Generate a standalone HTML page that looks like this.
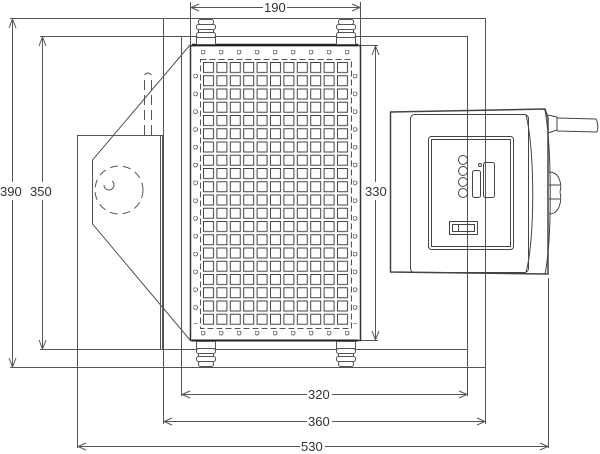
<!DOCTYPE html>
<html><head><meta charset="utf-8"><style>
html,body{margin:0;padding:0;background:#fff}
svg{display:block}
text{font-family:"Liberation Sans",sans-serif;font-size:13px;fill:#333}
</style></head><body>
<svg width="600" height="454" viewBox="0 0 600 454" xmlns="http://www.w3.org/2000/svg">
<defs>
<pattern id="sq" x="203" y="62" width="13.4" height="13.25" patternUnits="userSpaceOnUse">
<rect x="0.5" y="0.5" width="10" height="10" fill="none" stroke="#444" stroke-width="1"/>
</pattern>
<pattern id="hh" x="201" y="50" width="18" height="10" patternUnits="userSpaceOnUse">
<circle cx="2" cy="2" r="2" fill="none" stroke="#555" stroke-width="0.9"/>
</pattern>
<pattern id="hv" x="193.5" y="74" width="10" height="17.8" patternUnits="userSpaceOnUse">
<circle cx="2" cy="2" r="2" fill="none" stroke="#555" stroke-width="0.9"/>
</pattern>
<pattern id="hv2" x="353" y="74" width="10" height="17.8" patternUnits="userSpaceOnUse">
<circle cx="2" cy="2" r="2" fill="none" stroke="#555" stroke-width="0.9"/>
</pattern>
<pattern id="hh2" x="201" y="331" width="18" height="10" patternUnits="userSpaceOnUse">
<circle cx="2" cy="2" r="2" fill="none" stroke="#555" stroke-width="0.9"/>
</pattern>
</defs>
<g fill="none" stroke="#555" stroke-width="1">
<rect x="163.5" y="18.5" width="322" height="349"/>
<rect x="181.5" y="36.5" width="286" height="313"/>
<line x1="10" y1="18.5" x2="164" y2="18.5"/>
<line x1="40" y1="36.5" x2="182" y2="36.5"/>
<line x1="10" y1="367.5" x2="164" y2="367.5"/>
<line x1="40" y1="349.5" x2="182" y2="349.5"/>
<line x1="12.5" y1="19" x2="12.5" y2="182"/><line x1="12.5" y1="200" x2="12.5" y2="367"/>
<path d="M9,28 L12.5,19 L16,28 M9,358 L12.5,367 L16,358"/>
<line x1="42.5" y1="37" x2="42.5" y2="182"/><line x1="42.5" y1="200" x2="42.5" y2="349"/>
<path d="M39,46 L42.5,37 L46,46 M39,340 L42.5,349 L46,340"/>
<line x1="181.5" y1="350" x2="181.5" y2="396"/>
<line x1="467.5" y1="350" x2="467.5" y2="396"/>
<line x1="163.5" y1="368" x2="163.5" y2="424"/>
<line x1="485.5" y1="368" x2="485.5" y2="424"/>
<line x1="77.5" y1="350" x2="77.5" y2="448"/>
<line x1="548.5" y1="278" x2="548.5" y2="448"/>
<line x1="182" y1="394.5" x2="307" y2="394.5"/><line x1="332" y1="394.5" x2="467" y2="394.5"/>
<path d="M190,391 L182,394.5 L190,398 M459,391 L467,394.5 L459,398"/>
<line x1="164" y1="421.5" x2="307" y2="421.5"/><line x1="332" y1="421.5" x2="485" y2="421.5"/>
<path d="M172,418 L164,421.5 L172,425 M477,418 L485,421.5 L477,425"/>
<line x1="78" y1="446.5" x2="300" y2="446.5"/><line x1="325" y1="446.5" x2="548" y2="446.5"/>
<path d="M86,443 L78,446.5 L86,450 M540,443 L548,446.5 L540,450"/>
<line x1="190.5" y1="2" x2="190.5" y2="45"/>
<line x1="360.5" y1="2" x2="360.5" y2="45"/>
<line x1="191" y1="7.5" x2="263" y2="7.5"/><line x1="287" y1="7.5" x2="360" y2="7.5"/>
<path d="M199,4 L191,7.5 L199,11 M352,4 L360,7.5 L352,11"/>
<line x1="360" y1="45.5" x2="378" y2="45.5"/>
<line x1="360" y1="340.5" x2="378" y2="340.5"/>
<line x1="375.5" y1="46" x2="375.5" y2="182"/><line x1="375.5" y1="200" x2="375.5" y2="340"/>
<path d="M372,55 L375.5,46 L379,55 M372,331 L375.5,340 L379,331"/>
<rect x="77.5" y="135.5" width="85" height="214"/>
<line x1="160.5" y1="136" x2="160.5" y2="349"/>
<path d="M190,45 L92.5,160 L92.5,224 L190,340"/>
<circle cx="119" cy="190" r="24" stroke-dasharray="8,5"/>
<path d="M104,185 a5,5 0 1 0 8,-4" />
<path d="M144.5,135 L144.5,75 M151.5,135 L151.5,75" stroke-dasharray="10,5"/>
<path d="M144.5,75 q3,-4 7,0"/>
<rect x="190.5" y="45.5" width="170" height="295" stroke="#333" stroke-width="1.5"/>
<line x1="192" y1="45" x2="358" y2="45" stroke="#222" stroke-width="2.5"/>
<line x1="192" y1="340.5" x2="358" y2="340.5" stroke="#222" stroke-width="2"/>
<rect x="200.5" y="59.5" width="151" height="269" stroke-dasharray="6,3"/>
</g>
<rect x="203" y="62" width="147.5" height="265" fill="url(#sq)"/>
<rect x="201" y="50" width="162" height="5" fill="url(#hh)"/>
<rect x="201" y="331" width="162" height="5" fill="url(#hh2)"/>
<rect x="193.5" y="74" width="5" height="250" fill="url(#hv)"/>
<rect x="353" y="74" width="5" height="250" fill="url(#hv2)"/>
<g fill="#fff" stroke="#555" stroke-width="1">
<g id="ins">
<rect x="198.5" y="19.5" width="15" height="5" rx="2"/>
<rect x="196.5" y="24.5" width="19" height="5" rx="2"/>
<rect x="198.5" y="29.5" width="15" height="3"/>
<rect x="196.5" y="32.5" width="19" height="5" rx="2"/>
<rect x="196.5" y="37.5" width="19" height="7"/>
</g>
<use href="#ins" x="140"/>
<use href="#ins" transform="translate(0,386) scale(1,-1)"/>
<use href="#ins" transform="translate(140,386) scale(1,-1)"/>
</g>
<g fill="none" stroke="#444" stroke-width="1">
<path d="M390.5,112 L545,109 L548,118 L548,274 L390.5,272 Z" stroke-width="1.5"/>
<rect x="410.5" y="114.5" width="118" height="158" rx="4"/>
<path d="M526,115 C535,150 535,240 526,272 M545,110 C552,150 552,240 545,274"/>
<rect x="428.5" y="136.5" width="85" height="113" rx="3"/>
<rect x="431.5" y="139.5" width="79" height="107"/>
<circle cx="463" cy="160" r="4.5"/><circle cx="463" cy="171" r="4.5"/>
<circle cx="463" cy="182" r="4.5"/><circle cx="463" cy="193" r="4.5"/>
<rect x="472.5" y="170.5" width="8" height="27" rx="2"/>
<rect x="483.5" y="162.5" width="11" height="35" rx="2"/>
<circle cx="480" cy="165" r="1.5"/>
<rect x="449.5" y="221.5" width="28" height="13"/>
<rect x="452.5" y="224.5" width="22" height="7"/>
<line x1="458.5" y1="224" x2="458.5" y2="232"/>
<path d="M548,115 L557,117 L557,130 L548,133"/>
<path d="M557,118 L596,119 M557,131 L597,132 M596,119 q3,6 1,13"/>
<path d="M549,172 C560,172 562,185 560,192 C562,200 560,214 549,214 M549,185 L560,185 M549,199 L560,199"/>
</g>
<text x="264" y="12">190</text>
<text x="365" y="196">330</text>
<text x="0" y="196">390</text>
<text x="30" y="196">350</text>
<text x="308" y="399">320</text>
<text x="308" y="426">360</text>
<text x="301" y="451">530</text>
</svg>
</body></html>
